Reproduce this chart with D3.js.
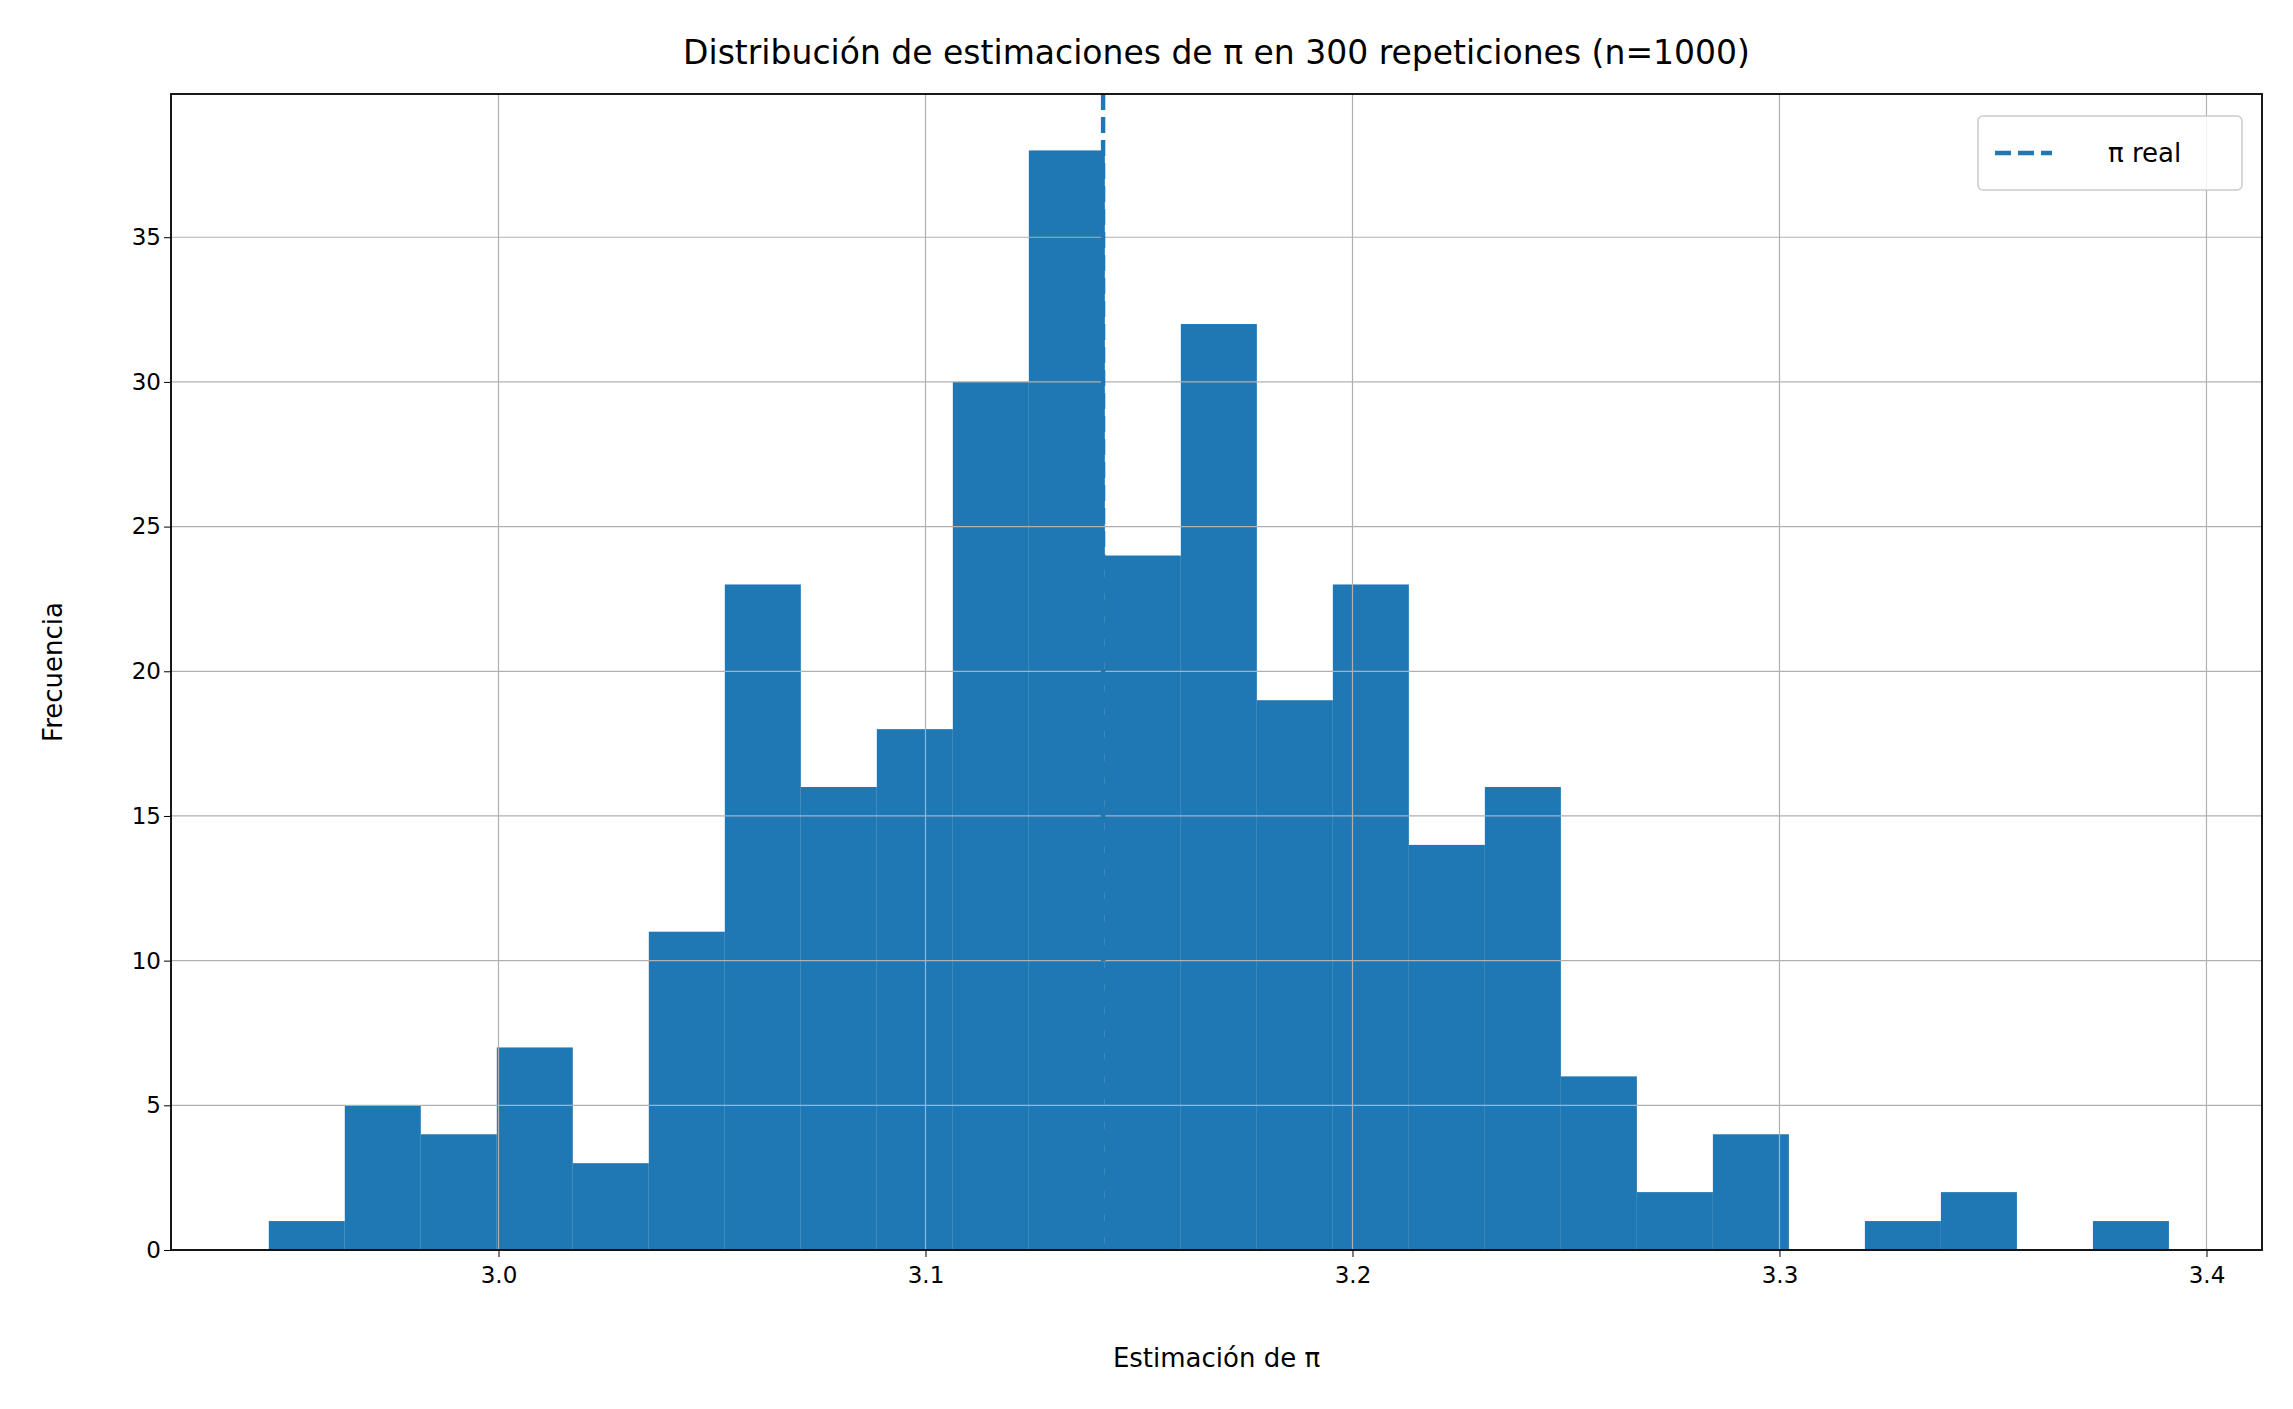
<!DOCTYPE html>
<html><head><meta charset="utf-8">
<script src="https://cdn.jsdelivr.net/npm/d3@7"></script>
<style>body{margin:0;background:#fff}text{font-family:"DejaVu Sans",sans-serif}</style>
</head><body><svg id="c" width="2293" height="1409"></svg>
<script>
const binStart = 2.9462, binWidth = 0.0178;
const counts = [1,5,4,7,3,11,23,16,18,30,38,24,32,19,23,14,16,6,2,4,0,1,2,0,1];
const xTicks = [3.0,3.1,3.2,3.3,3.4];
const yTicks = [0,5,10,15,20,25,30,35];
const piReal = Math.PI;

const svg = d3.select("#c");
const L=171,R=2262,T=94,B=1250;
const x = d3.scaleLinear().domain([2.9233,3.413]).range([L,R]);
const y = d3.scaleLinear().domain([0,39.95]).range([B,T]);
const col="#1f77b4";

svg.append("g").selectAll("rect").data(counts).join("rect")
 .attr("x",(d,i)=>x(binStart+i*binWidth)).attr("width",(d,i)=>x(binStart+(i+1)*binWidth)-x(binStart+i*binWidth))
 .attr("y",d=>y(d)).attr("height",d=>B-y(d)).attr("fill",col);

const g=svg.append("g").attr("stroke","#b0b0b0").attr("stroke-width",1.2);
xTicks.forEach(t=>g.append("line").attr("x1",x(t)).attr("x2",x(t)).attr("y1",T).attr("y2",B));
yTicks.forEach(t=>g.append("line").attr("x1",L).attr("x2",R).attr("y1",y(t)).attr("y2",y(t)));

svg.append("line").attr("x1",x(piReal)).attr("x2",x(piReal)).attr("y1",T).attr("y2",B)
 .attr("stroke",col).attr("stroke-width",4.4).attr("stroke-dasharray","16,7");

svg.append("g").attr("transform",`translate(0,${B})`).call(d3.axisBottom(x).tickValues(xTicks).tickFormat(d3.format(".1f")).tickSize(7).tickSizeOuter(0))
 .call(a=>{a.select(".domain").remove();a.selectAll("text").attr("font-size",23).attr("dy","1.0em");});
svg.append("g").attr("transform",`translate(${L},0)`).call(d3.axisLeft(y).tickValues(yTicks).tickSize(7).tickSizeOuter(0))
 .call(a=>{a.select(".domain").remove();a.selectAll("text").attr("font-size",23);});
svg.append("rect").attr("x",L).attr("y",T).attr("width",R-L).attr("height",B-T).attr("fill","none").attr("stroke","#000").attr("stroke-width",1.8);

svg.append("text").attr("x",(L+R)/2).attr("y",64).attr("text-anchor","middle").attr("font-size",33)
 .text("Distribución de estimaciones de π en 300 repeticiones (n=1000)");
svg.append("text").attr("x",(L+R)/2).attr("y",1367).attr("text-anchor","middle").attr("font-size",26).text("Estimación de π");
svg.append("text").attr("transform",`translate(62,${(T+B)/2}) rotate(-90)`).attr("text-anchor","middle").attr("font-size",26).text("Frecuencia");

const lg=svg.append("g");
lg.append("rect").attr("x",1978).attr("y",116).attr("width",264).attr("height",74).attr("rx",5).attr("fill","#fff").attr("fill-opacity",0.85).attr("stroke","#ccc").attr("stroke-width",1.5);
lg.append("line").attr("x1",1995).attr("x2",2052).attr("y1",153).attr("y2",153).attr("stroke",col).attr("stroke-width",4.4).attr("stroke-dasharray","16,7");
lg.append("text").attr("x",2108).attr("y",162).attr("font-size",26).text("π real");
</script></body></html>
